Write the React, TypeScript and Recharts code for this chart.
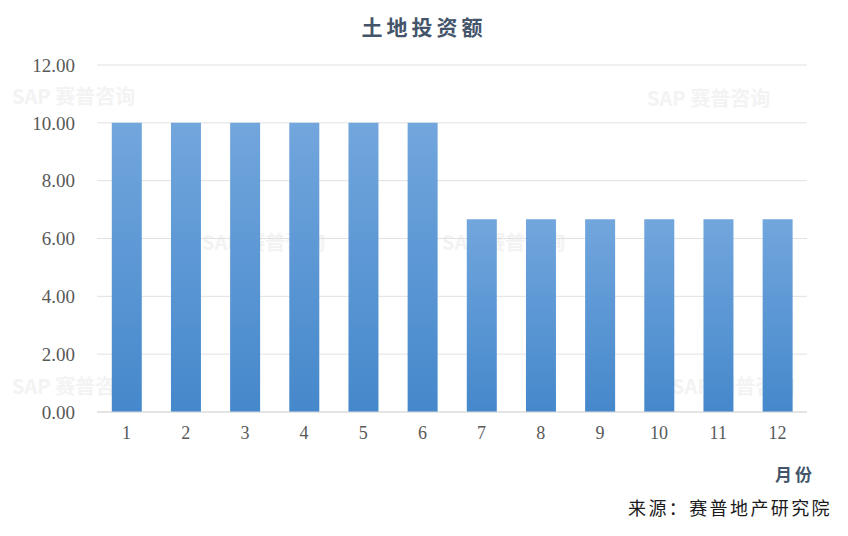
import React from "react";
import { BarChart, Bar, XAxis, YAxis, CartesianGrid } from "recharts";

const months = ["1", "2", "3", "4", "5", "6", "7", "8", "9", "10", "11", "12"];
const landInvestment = [10, 10, 10, 10, 10, 10, 6.67, 6.67, 6.67, 6.67, 6.67, 6.67];
const yTicks = [0, 2, 4, 6, 8, 10, 12];

const data = months.map((m, i) => ({ month: m, value: landInvestment[i] }));

const watermarks = [
  { left: 12, top: 86 },
  { left: 647, top: 88 },
  { left: 202, top: 232 },
  { left: 442, top: 232 },
  { left: 12, top: 376 },
  { left: 672, top: 376 },
];

const serif = "'Liberation Serif', 'DejaVu Serif', serif";
const cjk = "'Noto Sans CJK SC', sans-serif";

const App: React.FC = () => {
  return (
    <div
      style={{
        position: "relative",
        width: 848,
        height: 536,
        margin: -8,
        background: "#fff",
        overflow: "hidden",
      }}
    >
      {watermarks.map((w, i) => (
        <div
          key={i}
          style={{
            position: "absolute",
            left: w.left,
            top: w.top,
            fontFamily: cjk,
            fontSize: 20,
            lineHeight: 1,
            fontWeight: 700,
            color: "#f3f3f3",
            whiteSpace: "nowrap",
          }}
        >
          SAP 赛普咨询
        </div>
      ))}

      <div style={{ position: "absolute", left: 0, top: 0 }}>
        <BarChart
          width={848}
          height={536}
          data={data}
          margin={{ top: 65, right: 41, bottom: 94, left: 0 }}
          barCategoryGap="25%"
        >
          <defs>
            <linearGradient id="barFill" x1="0" y1="0" x2="0" y2="1">
              <stop offset="0%" stopColor="#72a6dd" />
              <stop offset="100%" stopColor="#4588cb" />
            </linearGradient>
          </defs>
          <CartesianGrid vertical={false} stroke="#e1e1e1" />
          <XAxis
            dataKey="month"
            height={30}
            axisLine={{ stroke: "#d9d9d9" }}
            tickLine={false}
            tickSize={0}
            tickMargin={14}
            tick={{ fill: "#595959", fontSize: 18, fontFamily: serif }}
          />
          <YAxis
            width={97}
            domain={[0, 12]}
            ticks={yTicks}
            axisLine={false}
            tickLine={false}
            tickSize={0}
            tickMargin={22}
            tickFormatter={(v: number) => v.toFixed(2)}
            tick={{ fill: "#595959", fontSize: 19, fontFamily: serif }}
          />
          <Bar dataKey="value" fill="url(#barFill)" isAnimationActive={false} />
        </BarChart>
      </div>

      <div
        style={{
          position: "absolute",
          left: 0,
          width: 848,
          top: 11,
          textAlign: "center",
          fontFamily: cjk,
          fontSize: 21,
          fontWeight: 700,
          letterSpacing: 4,
          color: "#44546a",
        }}
      >
        土地投资额
      </div>
      <div
        style={{
          position: "absolute",
          left: 775,
          top: 461,
          fontFamily: cjk,
          fontSize: 17,
          fontWeight: 700,
          letterSpacing: 3,
          color: "#44546a",
        }}
      >
        月份
      </div>
      <div
        style={{
          position: "absolute",
          left: 628,
          top: 494,
          fontFamily: cjk,
          fontSize: 18,
          letterSpacing: 2.4,
          color: "#1a1a1a",
          whiteSpace: "nowrap",
        }}
      >
        来源：赛普地产研究院
      </div>
    </div>
  );
};

export default App;
